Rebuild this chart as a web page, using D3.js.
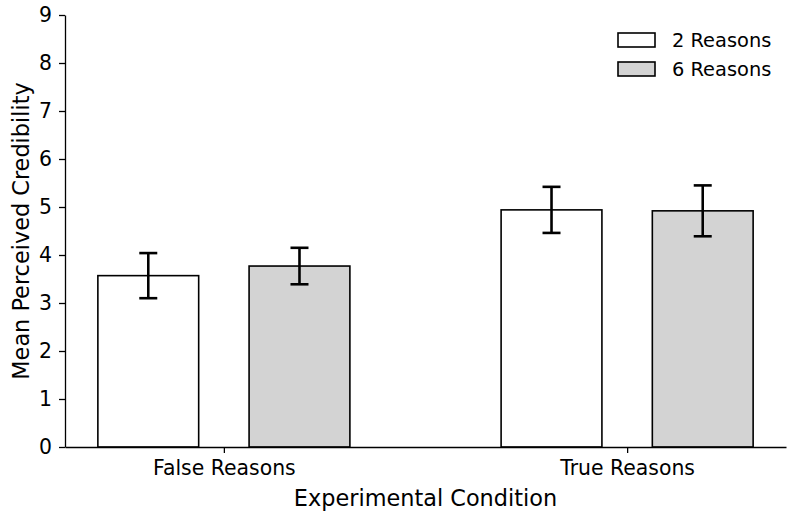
<!DOCTYPE html>
<html>
<head>
<meta charset="utf-8">
<script src="https://cdn.jsdelivr.net/npm/d3@7"></script>
<style>
  body { margin: 0; background: #fff; }
  svg { display: block; font-family: "DejaVu Sans", sans-serif; }
</style>
</head>
<body>
<div id="root"></div>
<script>
const width = 796;
const height = 519;

// data
const categories = ["False Reasons", "True Reasons"];
const seriesNames = ["2 Reasons", "6 Reasons"];
const seriesColors = ["#ffffff", "#d3d3d3"];
const means = [
    [3.57, 4.94],   // 2 Reasons
    [3.77, 4.92]    // 6 Reasons
];
const errors = [
    [0.47, 0.48],
    [0.38, 0.53]
];
const yTicks = [0, 1, 2, 3, 4, 5, 6, 7, 8, 9];

const barWidth = 0.25;
const offsets = [-0.1875, 0.1875];

const tickFont = 20.4;
const legendFont = 19.4;
const labelFont = 22.4;

const x = d3.scaleLinear().domain([-0.394, 1.394]).range([65, 786]);
const y = d3.scaleLinear().domain([0, 9]).range([447, 15]);

const svg = d3.select("#root")
    .append("svg")
    .attr("width", width)
    .attr("height", height);

const bars = [];
seriesNames.forEach((s, si) => {
    categories.forEach((c, ci) => {
        bars.push({ si, ci, value: means[si][ci], err: errors[si][ci] });
    });
});

svg.selectAll(".bar")
    .data(bars)
    .join("rect")
    .attr("x", d => x(d.ci + offsets[d.si] - barWidth / 2))
    .attr("width", d => x(barWidth) - x(0))
    .attr("y", d => y(d.value))
    .attr("height", d => y(0) - y(d.value))
    .attr("fill", d => seriesColors[d.si])
    .attr("stroke", "#000")
    .attr("stroke-width", 1.6);

// error bars
const capHalf = 9;
const eb = svg.selectAll(".err")
    .data(bars)
    .join("g")
    .attr("stroke", "#000")
    .attr("stroke-width", 2.6);
eb.append("line")
    .attr("x1", d => x(d.ci + offsets[d.si]))
    .attr("x2", d => x(d.ci + offsets[d.si]))
    .attr("y1", d => y(d.value - d.err))
    .attr("y2", d => y(d.value + d.err));
eb.append("line")
    .attr("x1", d => x(d.ci + offsets[d.si]) - capHalf)
    .attr("x2", d => x(d.ci + offsets[d.si]) + capHalf)
    .attr("y1", d => y(d.value + d.err))
    .attr("y2", d => y(d.value + d.err));
eb.append("line")
    .attr("x1", d => x(d.ci + offsets[d.si]) - capHalf)
    .attr("x2", d => x(d.ci + offsets[d.si]) + capHalf)
    .attr("y1", d => y(d.value - d.err))
    .attr("y2", d => y(d.value - d.err));

// axes
const yAxis = svg.append("g")
    .attr("transform", `translate(${x.range()[0]},0)`)
    .call(d3.axisLeft(y).tickValues(yTicks).tickSize(6).tickPadding(7).tickSizeOuter(0));

const xAxis = svg.append("g")
    .attr("transform", `translate(0,${y(0)})`)
    .call(d3.axisBottom(x).tickValues([0, 1]).tickFormat(i => categories[i])
        .tickSize(6).tickPadding(8).tickSizeOuter(0));

[xAxis, yAxis].forEach(a => {
    a.selectAll("path, line").attr("stroke", "#000").attr("stroke-width", 1.3);
    a.selectAll("text").attr("font-size", tickFont).attr("fill", "#000")
        .attr("font-family", "DejaVu Sans, sans-serif");
});

svg.append("text")
    .attr("x", (x.range()[0] + x.range()[1]) / 2)
    .attr("y", 506)
    .attr("text-anchor", "middle")
    .attr("font-size", labelFont)
    .text("Experimental Condition");

svg.append("text")
    .attr("transform", `translate(29,${(y(0) + y(9)) / 2}) rotate(-90)`)
    .attr("text-anchor", "middle")
    .attr("font-size", labelFont)
    .text("Mean Perceived Credibility");

// legend
const legend = svg.append("g")
    .selectAll("g")
    .data(seriesNames)
    .join("g")
    .attr("transform", (d, i) => `translate(618,${33 + i * 29})`);
legend.append("rect")
    .attr("width", 37)
    .attr("height", 14)
    .attr("fill", (d, i) => seriesColors[i])
    .attr("stroke", "#000")
    .attr("stroke-width", 1.6);
legend.append("text")
    .attr("x", 54)
    .attr("y", 7)
    .attr("dy", "0.35em")
    .attr("font-size", legendFont)
    .text(d => d);
</script>
</body>
</html>
